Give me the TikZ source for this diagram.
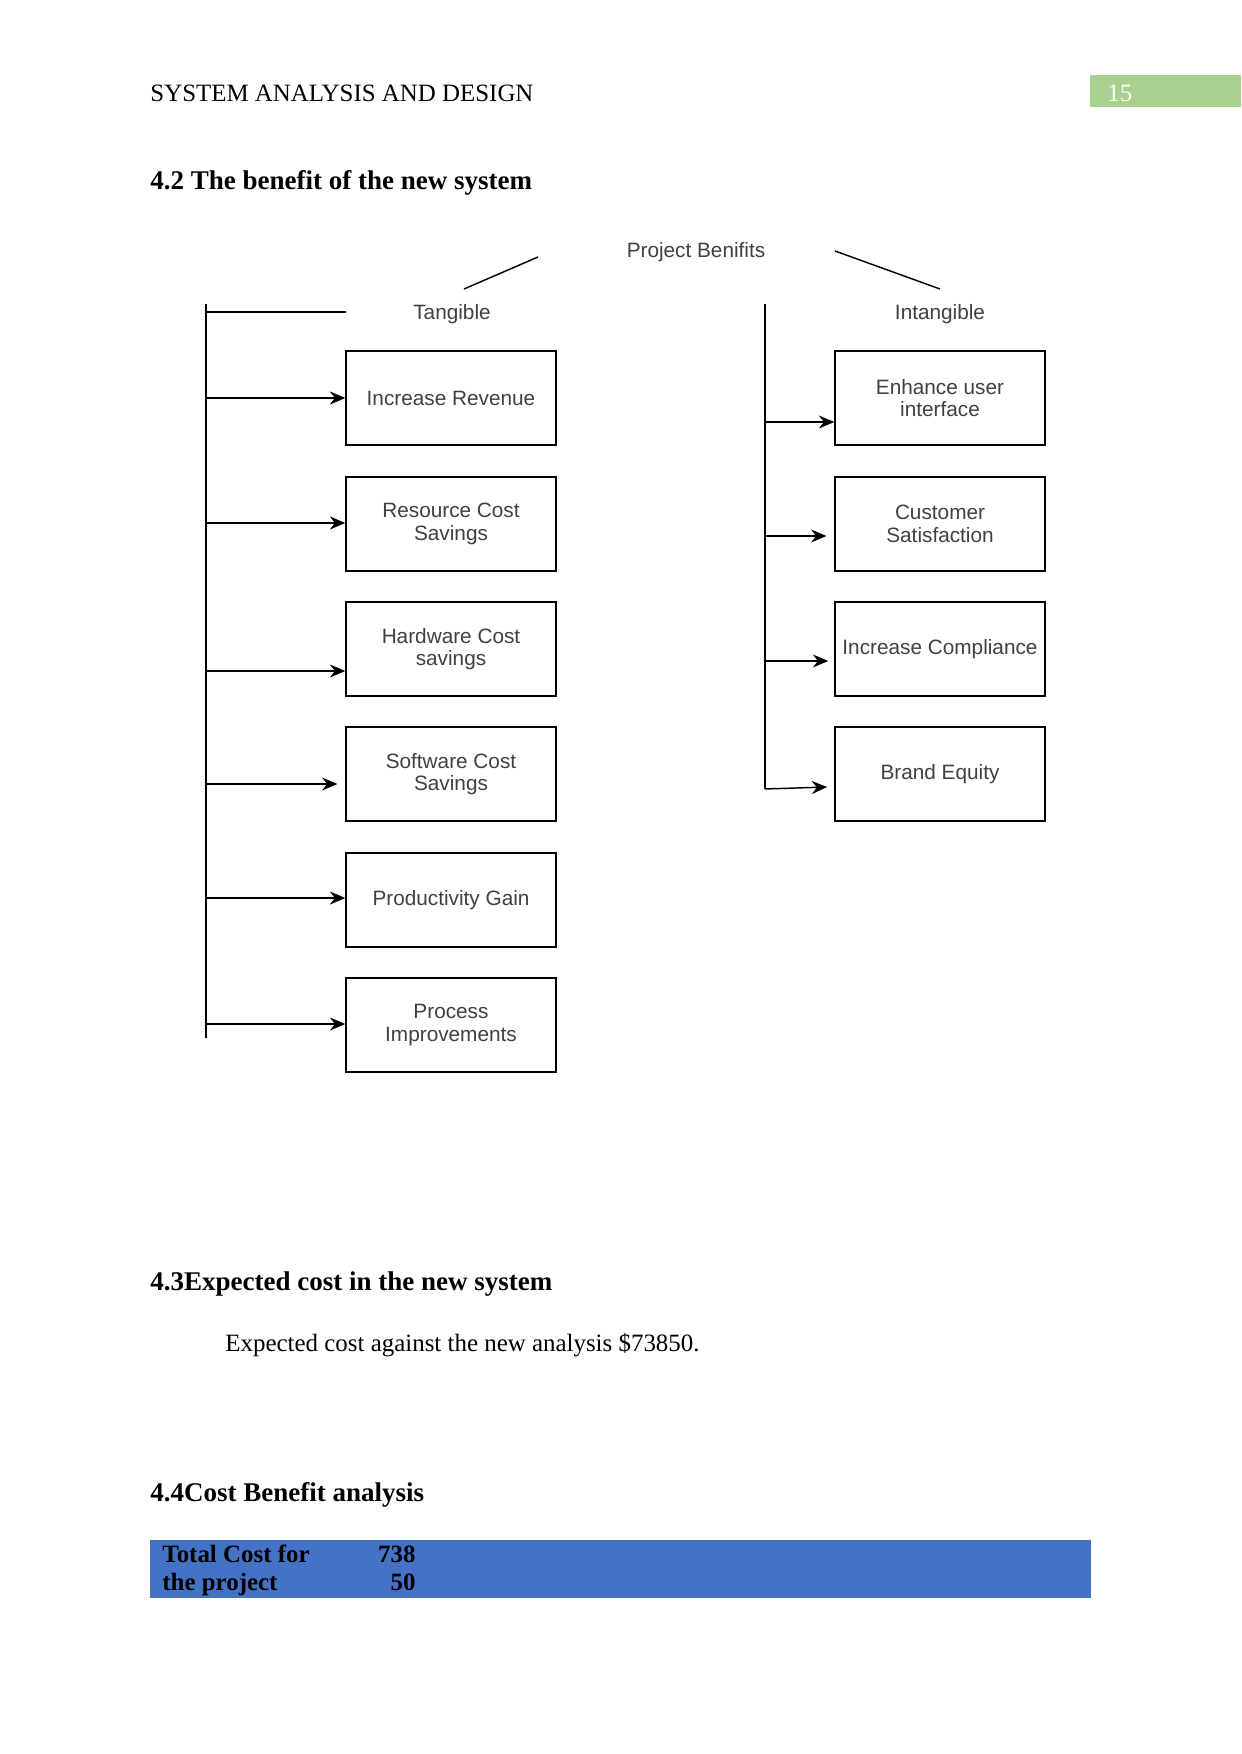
\documentclass[tikz,border=0pt]{standalone}
\usepackage{fontspec}
\setmainfont{Liberation Serif}
\setsansfont{Liberation Sans}
\usetikzlibrary{arrows.meta}
\definecolor{pagegreen}{HTML}{A9D18E}
\definecolor{tableblue}{HTML}{4472C4}

\begin{document}
\begin{tikzpicture}[x=0.016922cm, y=-0.016922cm,
      txt/.style={inner sep=0pt, anchor=base west, font=\fontsize{12}{14}\selectfont},
      head/.style={txt, font=\fontsize{13}{15}\selectfont\bfseries},
      box/.style={draw, line width=0.8pt, minimum width=3.55cm, minimum height=1.59cm, align=center, inner sep=2pt,
        font=\sffamily\fontsize{10}{10.8}\selectfont, text=black!75},
      lbl/.style={font=\sffamily\fontsize{10}{12}\selectfont, text=black!75},
      ln/.style={line width=0.7pt},
      arr/.style={ln, -{Stealth[length=2.6mm,width=2.2mm]}}]
    \useasboundingbox (0,0) rectangle (1241,1754);
    % page header
    \node[txt] (runhead) at (150,102) {SYSTEM ANALYSIS AND DESIGN};
    \fill[pagegreen] (1090,75) rectangle (1241,107);
    \node[txt, text=white] (pageno) at (1107,102) {15};
    \node[head] (sec42) at (150,190) {4.2 The benefit of the new system};
    % diagram labels
    \node[lbl] (root) at (696,252) {Project Benifits};
    \node[lbl] (tang) at (452,314) {Tangible};
    \node[lbl] (intang) at (940,314) {Intangible};
    \draw[ln] (464,289) -- (538,257);
    \draw[ln] (835,251) -- (940,289);
    % tangible boxes
    \node[box] (rev) at (451,398) {Increase Revenue};
    \node[box] (res) at (451,524) {Resource Cost\\Savings};
    \node[box] (hw) at (451,649) {Hardware Cost\\savings};
    \node[box] (sw) at (451,774) {Software Cost\\Savings};
    \node[box] (prod) at (451,900) {Productivity Gain};
    \node[box] (proc) at (451,1025) {Process\\Improvements};
    % intangible boxes
    \node[box] (ui) at (940,398) {Enhance user\\interface};
    \node[box] (cust) at (940,524) {Customer\\Satisfaction};
    \node[box] (comp) at (940,649) {Increase Compliance};
    \node[box] (brand) at (940,774) {Brand Equity};
    % left trunk
    \coordinate (ltop) at (206,304);
    \coordinate (lbot) at (206,1038);
    \draw[ln] (ltop) -- (lbot);
    \draw[ln] (206,312) -- (346,312);
    \coordinate (l1) at (206,398);
    \coordinate (l2) at (206,523);
    \coordinate (l3) at (206,671);
    \coordinate (l4) at (206,784);
    \coordinate (l5) at (206,898);
    \coordinate (l6) at (206,1024);
    \draw[arr] (l1) -- (l1 -| rev.west);
    \draw[arr] (l2) -- (l2 -| res.west);
    \draw[arr] (l3) -- (l3 -| hw.west);
    \draw[arr, shorten >=3.8pt] (l4) -- (l4 -| sw.west);
    \draw[arr] (l5) -- (l5 -| prod.west);
    \draw[arr] (l6) -- (l6 -| proc.west);
    % right trunk
    \coordinate (rtop) at (765,304);
    \coordinate (rbot) at (765,789);
    \draw[ln] (rtop) -- (rbot);
    \coordinate (r1) at (765,422);
    \coordinate (r2) at (765,536);
    \coordinate (r3) at (765,661);
    \draw[arr] (r1) -- (r1 -| ui.west);
    \draw[arr, shorten >=3.8pt] (r2) -- (r2 -| cust.west);
    \draw[arr, shorten >=2.9pt] (r3) -- (r3 -| comp.west);
    \draw[arr] (rbot) -- ([xshift=-3.4pt]brand.west |- 0,787);
    % text below
    \node[head] (sec43) at (150,1290) {4.3Expected cost in the new system};
    \node[txt] (costline) at (225,1351) {Expected cost against the new analysis \$73850.};
    \node[head] (sec44) at (150,1501) {4.4Cost Benefit analysis};
    \fill[tableblue] (150,1540) rectangle (1091,1598);
    \node[txt, font=\fontsize{12}{14}\selectfont\bfseries] (tc1) at (162,1562) {Total Cost for};
    \node[txt, anchor=base east, font=\fontsize{12}{14}\selectfont\bfseries] (tv1) at (416,1562) {738};
    \node[txt, font=\fontsize{12}{14}\selectfont\bfseries] (tc2) at (162,1590) {the project};
    \node[txt, anchor=base east, font=\fontsize{12}{14}\selectfont\bfseries] (tv2) at (416,1590) {50};
\end{tikzpicture}
\end{document}
